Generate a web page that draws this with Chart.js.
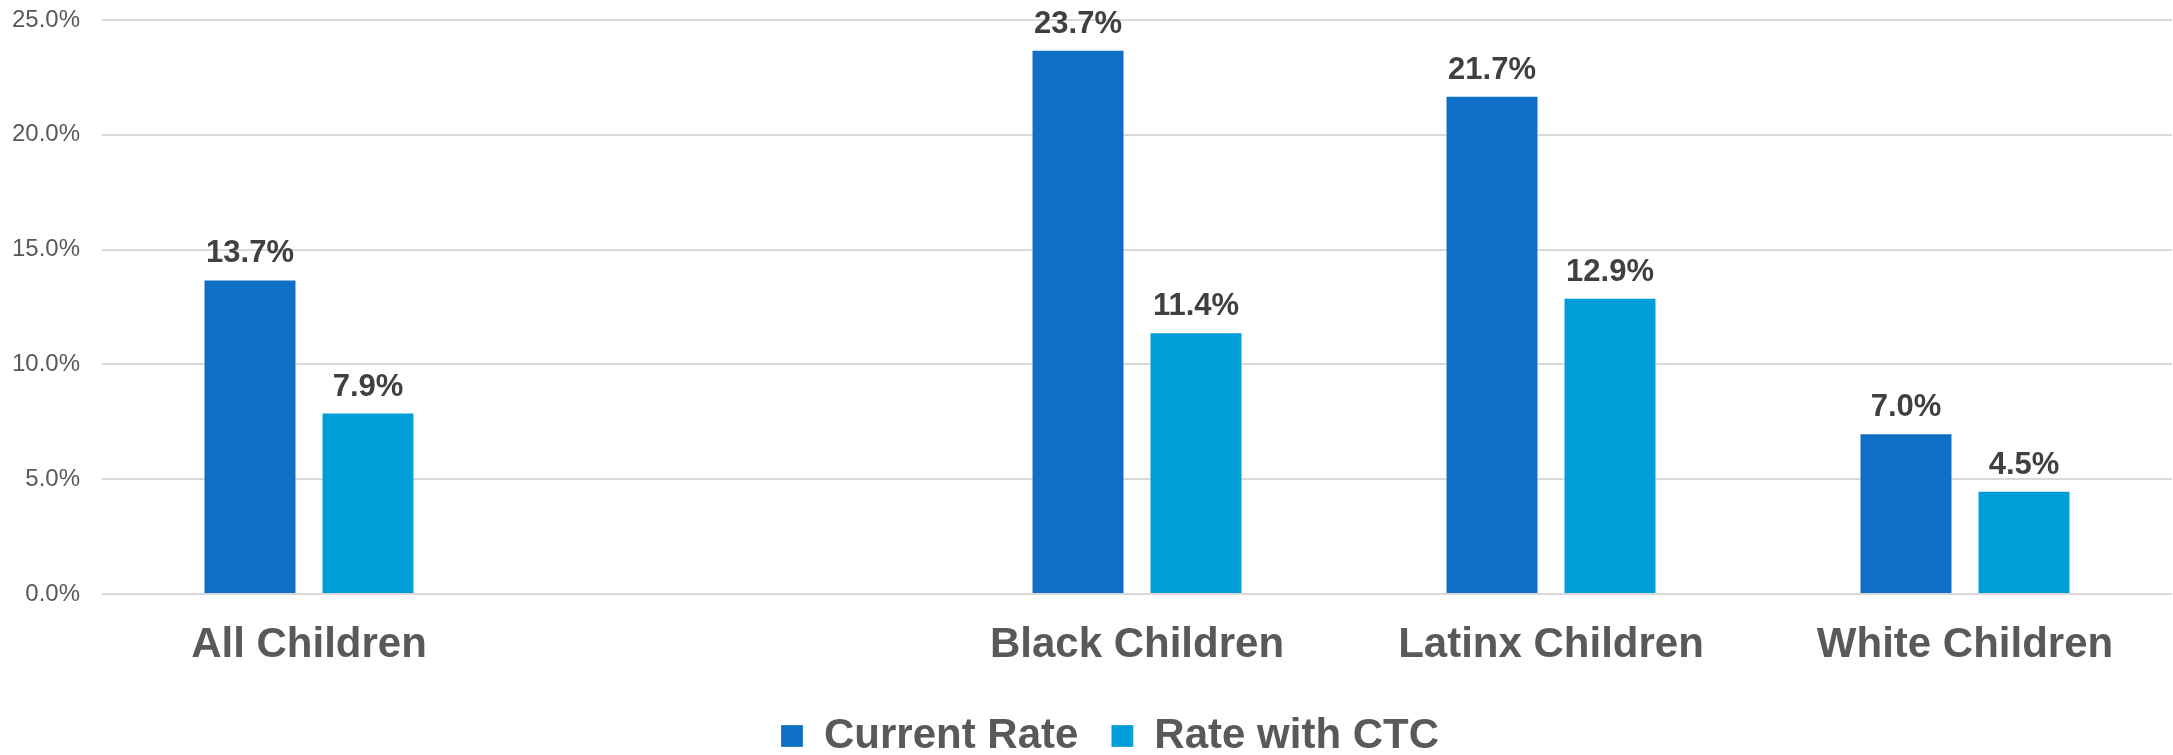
<!DOCTYPE html>
<html>
<head>
<meta charset="utf-8">
<style>
  html, body { margin: 0; padding: 0; background: #ffffff; }
  #wrap { width: 2173px; height: 755px; position: relative; }
  canvas { display: block; }
</style>
<script src="https://cdn.jsdelivr.net/npm/chart.js@4/dist/chart.umd.min.js"></script>
</head>
<body>
<div id="wrap"><canvas id="chart" width="2173" height="755"></canvas></div>
<script>
// Child poverty rates by group (percent)
const categories = ['All Children', '', 'Black Children', 'Latinx Children', 'White Children'];
const currentRate = [13.7, null, 23.7, 21.7, 7.0];
const rateWithCTC = [7.9, null, 11.4, 12.9, 4.5];
const seriesNames = ['Current Rate', 'Rate with CTC'];
const yTicks = [0, 5, 10, 15, 20, 25];

const FONT = '"Liberation Sans", Arial, Helvetica, sans-serif';

// Writes each bar's value just above it, using the bar element's own position
const valueLabels = {
  id: 'valueLabels',
  afterDatasetsDraw(chart) {
    const ctx = chart.ctx;
    ctx.save();
    ctx.font = 'bold 31px ' + FONT;
    ctx.fillStyle = '#404040';
    ctx.textAlign = 'center';
    ctx.textBaseline = 'alphabetic';
    chart.data.datasets.forEach((ds, di) => {
      const meta = chart.getDatasetMeta(di);
      meta.data.forEach((bar, i) => {
        const v = ds.data[i];
        if (v === null || v === undefined) return;
        ctx.fillText(v.toFixed(1) + '%', bar.x, bar.y - 17);
      });
    });
    ctx.restore();
  }
};

// Nudges the legend a little to the right of the canvas centre
const legendOffset = {
  id: 'legendOffset',
  afterLayout(chart) {
    const lg = chart.legend;
    if (!lg) return;
    const shift = 24;
    lg.left += shift;
    lg.right += shift;
  }
};

new Chart(document.getElementById('chart'), {
  type: 'bar',
  data: {
    labels: categories,
    datasets: [
      {
        label: seriesNames[0],
        data: currentRate,
        backgroundColor: '#0F6FC6',
        borderColor: 'rgba(255,255,255,0.25)',
        borderWidth: 1,
        categoryPercentage: 0.57,
        barPercentage: 0.788
      },
      {
        label: seriesNames[1],
        data: rateWithCTC,
        backgroundColor: '#009DD9',
        borderColor: 'rgba(255,255,255,0.25)',
        borderWidth: 1,
        categoryPercentage: 0.57,
        barPercentage: 0.788
      }
    ]
  },
  options: {
    responsive: false,
    animation: false,
    events: [],
    layout: { padding: { top: 20, right: 1, left: 0, bottom: -12 } },
    plugins: {
      tooltip: { enabled: false },
      legend: {
        position: 'bottom',
        align: 'center',
        labels: {
          font: { family: FONT, size: 42, weight: 'bold' },
          color: '#595959',
          boxWidth: 22,
          boxHeight: 22,
          padding: 33
        }
      }
    },
    scales: {
      x: {
        grid: { display: false, drawTicks: false },
        border: { display: false },
        ticks: {
          font: { family: FONT, size: 42, weight: 'bold' },
          color: '#595959',
          padding: 26,
          maxRotation: 0,
          autoSkip: false
        },
        afterFit(scale) { scale.height = 88; }
      },
      y: {
        min: yTicks[0],
        max: yTicks[yTicks.length - 1],
        afterBuildTicks(scale) { scale.ticks = yTicks.map(v => ({ value: v })); },
        grid: { color: '#d9d9d9', lineWidth: 2, drawTicks: false },
        border: { display: false },
        ticks: {
          font: { family: FONT, size: 24 },
          color: '#595959',
          padding: 22,
          callback: v => Number(v).toFixed(1) + '%'
        },
        afterFit(scale) {
          scale.width = 102;
          scale.paddingTop = 0;
          scale.paddingBottom = 0;
        }
      }
    }
  },
  plugins: [valueLabels, legendOffset]
});
</script>
</body>
</html>
